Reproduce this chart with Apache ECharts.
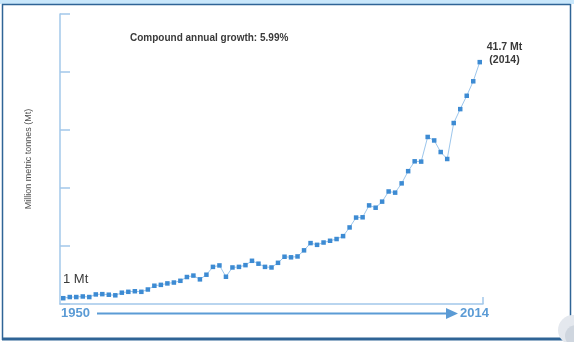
<!DOCTYPE html>
<html>
<head>
<meta charset="utf-8">
<script src="https://cdn.jsdelivr.net/npm/echarts@6/dist/echarts.min.js"></script>
<style>
  html, body { margin: 0; padding: 0; background: #fff; }
  #chart { width: 574px; height: 342px; }
</style>
</head>
<body>
<div id="chart"></div>
<script>
// Global plastic production, million metric tonnes per year
const years = [
  1950, 1951, 1952, 1953, 1954, 1955, 1956, 1957, 1958, 1959,
  1960, 1961, 1962, 1963, 1964, 1965, 1966, 1967, 1968, 1969,
  1970, 1971, 1972, 1973, 1974, 1975, 1976, 1977, 1978, 1979,
  1980, 1981, 1982, 1983, 1984, 1985, 1986, 1987, 1988, 1989,
  1990, 1991, 1992, 1993, 1994, 1995, 1996, 1997, 1998, 1999,
  2000, 2001, 2002, 2003, 2004, 2005, 2006, 2007, 2008, 2009,
  2010, 2011, 2012, 2013, 2014
];
const production = [
  1.0, 1.2, 1.2, 1.3, 1.2, 1.65, 1.7, 1.6, 1.5, 1.95,
  2.1, 2.2, 2.1, 2.5, 3.15, 3.3, 3.55, 3.7, 4.0, 4.65,
  4.9, 4.25, 5.05, 6.4, 6.65, 4.7, 6.3, 6.4, 6.7, 7.45,
  6.95, 6.4, 6.3, 7.1, 8.15, 8.05, 8.2, 9.25, 10.5, 10.2,
  10.6, 10.9, 11.2, 11.7, 13.2, 14.9, 14.95, 17.0, 16.6, 17.65,
  19.4, 19.2, 20.8, 22.9, 24.6, 24.55, 28.8, 28.2, 26.2, 25.0,
  31.2, 33.6, 35.9, 38.4, 41.7
];
const growthNote = 'Compound annual growth: 5.99%';
const yAxisTitle = 'Million metric tonnes (Mt)';
const startLabel = '1950';
const endLabel = '2014';

const axisBlue = '#a3c8ea';
const markBlue = '#3d8bd3';
const textBlue = '#5b9bd5';
const textGray = '#3a3a3a';
const font = '"Liberation Sans", Arial, sans-serif';

const lastIdx = production.length - 1;
const seriesData = years.map((y, i) => {
  const item = { value: [y, production[i]] };
  if (i === 0) {
    item.label = {
      show: true,
      position: [2, -17],
      align: 'left',
      verticalAlign: 'middle',
      formatter: p => p.value[1] + ' Mt',
      fontFamily: font,
      fontSize: 13,
      color: textGray
    };
  }
  if (i === lastIdx) {
    item.label = {
      show: true,
      position: [27, -6],
      align: 'center',
      verticalAlign: 'middle',
      lineHeight: 13,
      formatter: p => p.value[1] + ' Mt\n(' + p.value[0] + ')',
      fontFamily: font,
      fontSize: 10.5,
      fontWeight: 'bold',
      color: textGray
    };
  }
  return item;
});

const chart = echarts.init(document.getElementById('chart'), null, { renderer: 'canvas' });
chart.setOption({
  animation: false,
  backgroundColor: '#ffffff',
  grid: { left: 60, right: 91, top: 14, bottom: 38 },
  xAxis: {
    type: 'value',
    min: years[0] - 0.5,
    max: years[lastIdx] + 0.5,
    axisLine: { show: true, lineStyle: { color: axisBlue, width: 1.5 } },
    axisTick: {
      show: true,
      inside: true,
      length: 7,
      customValues: [years[lastIdx] + 0.5],
      lineStyle: { color: axisBlue, width: 1.5 }
    },
    axisLabel: { show: false },
    splitLine: { show: false }
  },
  yAxis: {
    type: 'value',
    min: 0,
    max: 50,
    interval: 10,
    name: yAxisTitle,
    nameLocation: 'middle',
    nameRotate: 90,
    nameGap: 27,
    nameTextStyle: { fontFamily: font, fontSize: 9, color: '#505050' },
    axisLine: { show: true, lineStyle: { color: axisBlue, width: 1.5 } },
    axisTick: { show: true, inside: true, length: 10, lineStyle: { color: axisBlue, width: 1.5 } },
    axisLabel: { show: false },
    splitLine: { show: false }
  },
  series: [{
    type: 'line',
    data: seriesData,
    symbol: 'rect',
    symbolSize: 4.5,
    showAllSymbol: true,
    lineStyle: { color: '#9cc6ec', width: 1 },
    itemStyle: { color: markBlue },
    z: 5
  }],
  graphic: [
    // page frame
    { type: 'rect', shape: { x: 0, y: 0, width: 574, height: 4 }, style: { fill: '#c9e7fb' }, silent: true },
    { type: 'line', shape: { x1: 2, y1: 4.5, x2: 570.5, y2: 4.5 }, style: { stroke: '#2f6496', lineWidth: 1.5 }, silent: true },
    { type: 'line', shape: { x1: 2.5, y1: 4, x2: 2.5, y2: 340 }, style: { stroke: '#2f6496', lineWidth: 1.5 }, silent: true },
    { type: 'line', shape: { x1: 570.5, y1: 4, x2: 570.5, y2: 340 }, style: { stroke: '#2f6496', lineWidth: 1.5 }, silent: true },
    { type: 'line', shape: { x1: 2, y1: 339, x2: 571, y2: 339 }, style: { stroke: '#2f6496', lineWidth: 3 }, silent: true },
    // corner badge
    { type: 'circle', shape: { cx: 573, cy: 330, r: 15 }, style: { fill: '#e4e8ee' }, silent: true },
    { type: 'circle', shape: { cx: 576, cy: 336, r: 11 }, style: { fill: '#cfd6df' }, silent: true },
    // note
    {
      type: 'text', left: 130, top: 33,
      style: { text: growthNote, fontFamily: font, fontSize: 10, fontWeight: 'bold', fill: textGray }
    },
    // timeline arrow
    { type: 'line', shape: { x1: 97, y1: 313.5, x2: 449, y2: 313.5 }, style: { stroke: textBlue, lineWidth: 2 }, silent: true },
    { type: 'polygon', shape: { points: [[446, 308], [458, 313.5], [446, 319]] }, style: { fill: textBlue }, silent: true },
    {
      type: 'text', left: 61, top: 307,
      style: { text: startLabel, fontFamily: font, fontSize: 13, fontWeight: 'bold', fill: textBlue }
    },
    {
      type: 'text', left: 460, top: 307,
      style: { text: endLabel, fontFamily: font, fontSize: 13, fontWeight: 'bold', fill: textBlue }
    }
  ]
});
</script>
</body>
</html>
